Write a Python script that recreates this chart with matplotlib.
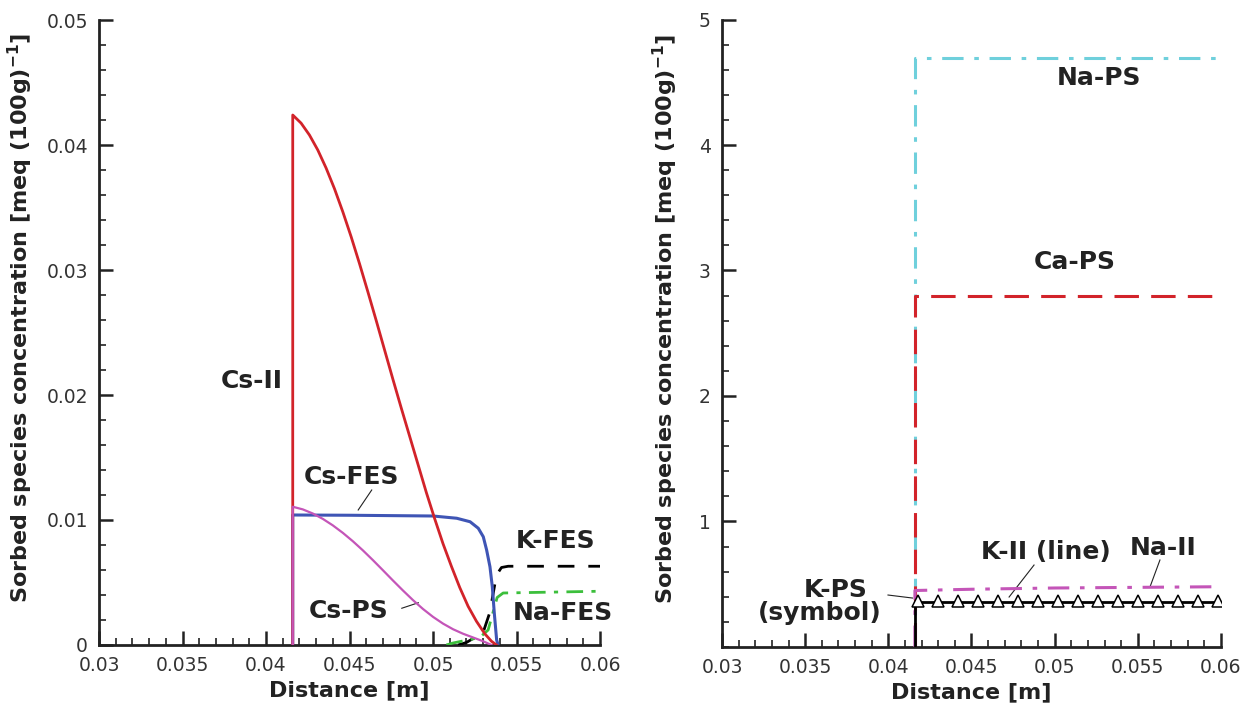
import matplotlib
matplotlib.use("Agg")
import matplotlib.pyplot as plt
from matplotlib.ticker import MultipleLocator

plt.rcParams['font.family'] = ['DejaVu Sans']
plt.rcParams['mathtext.default'] = 'regular'

# ---- left panel: Cs species and FES sites ----
cs_ii_x = [0.0416, 0.0416, 0.0421, 0.0426, 0.0431, 0.0436, 0.0441, 0.0446, 0.0451,
           0.0456, 0.0461, 0.0466, 0.0471, 0.0476, 0.0481, 0.0486, 0.0491, 0.0496,
           0.0501, 0.0506, 0.0511, 0.0516, 0.0521, 0.0526, 0.0531, 0.0535, 0.0538]
cs_ii_y = [0.0, 0.0424, 0.04175, 0.0408, 0.0396, 0.03815, 0.0365, 0.03465, 0.03265,
           0.0305, 0.02825, 0.02595, 0.0236, 0.02125, 0.01895, 0.0167, 0.01445, 0.0122,
           0.0101, 0.0081, 0.0063, 0.0046, 0.0031, 0.0019, 0.0009, 0.0003, 0.0]

cs_fes_x = [0.0416, 0.0416, 0.0450, 0.0500, 0.05142, 0.05222, 0.05271, 0.05301,
            0.05321, 0.05341, 0.05355, 0.05367, 0.05381, 0.0539]
cs_fes_y = [0.0, 0.0104, 0.01038, 0.01032, 0.01014, 0.00986, 0.00934, 0.00866,
            0.0076, 0.00626, 0.00466, 0.00254, 0.0004, 0.0]

cs_ps_x = [0.0416, 0.0416, 0.0422, 0.0428, 0.0434, 0.0440, 0.0446, 0.0452, 0.0458,
           0.0464, 0.0470, 0.0476, 0.0482, 0.0488, 0.0494, 0.0500, 0.0506, 0.0512,
           0.0518, 0.0524, 0.0530, 0.0535]
cs_ps_y = [0.0, 0.01106, 0.01085, 0.01052, 0.01009, 0.00957, 0.00897, 0.0083, 0.00757,
           0.00679, 0.00598, 0.00516, 0.00436, 0.00359, 0.00288, 0.00225, 0.00171, 0.00126,
           0.0009, 0.0006, 0.0003, 0.0]

k_fes_x = [0.0515, 0.0520, 0.0530, 0.0534, 0.0538, 0.0541, 0.0545, 0.0600]
k_fes_y = [0.0, 0.0002, 0.0010, 0.0026, 0.0056, 0.0062, 0.0063, 0.0063]

na_fes_x = [0.0508, 0.0512, 0.0528, 0.0533, 0.05384, 0.0542, 0.0600]
na_fes_y = [0.0, 0.00016, 0.0006, 0.0012, 0.0038, 0.00416, 0.0043]

# ---- right panel: other sorbed species ----
na_ps_x = [0.0416, 0.0416, 0.0598]
na_ps_y = [0.0, 4.69, 4.69]

ca_ps_x = [0.0416, 0.0416, 0.0598]
ca_ps_y = [0.0, 2.80, 2.80]

na_ii_x = [0.0416, 0.0416, 0.0450, 0.0500, 0.0598]
na_ii_y = [0.0, 0.45, 0.46, 0.47, 0.48]

k_ii_x = [0.0416, 0.0416, 0.0598]
k_ii_y = [0.0, 0.36, 0.36]

k_ps_x = [0.0418, 0.0430, 0.0442, 0.0454, 0.0466, 0.0478, 0.0490, 0.0502,
          0.0514, 0.0526, 0.0538, 0.0550, 0.0562, 0.0574, 0.0586, 0.0598]
k_ps_y = [0.37] * 16

x_ticks = [0.03, 0.035, 0.04, 0.045, 0.05, 0.055, 0.06]
x_labels = ["0.03", "0.035", "0.04", "0.045", "0.05", "0.055", "0.06"]
left_y_ticks = [0, 0.01, 0.02, 0.03, 0.04, 0.05]
left_y_labels = ["0", "0.01", "0.02", "0.03", "0.04", "0.05"]
right_y_ticks = [1, 2, 3, 4, 5]
right_y_labels = ["1", "2", "3", "4", "5"]

RED = "#d2232a"
BLUE = "#3f55b5"
MAGENTA = "#c455b8"
GREEN = "#3cbf3c"
CYAN = "#6fd0dc"
TXT = "#222222"

ylabel = "Sorbed species concentration [meq (100g)$^{-1}$]"


def style_axes(ax, ymin_step, label_x):
    for s in ["top", "right"]:
        ax.spines[s].set_visible(False)
    for s in ["left", "bottom"]:
        ax.spines[s].set_linewidth(2.0)
        ax.spines[s].set_color(TXT)
    ax.set_xlim(0.03, 0.06)
    ax.set_xticks(x_ticks)
    ax.set_xticklabels(x_labels)
    ax.xaxis.set_minor_locator(MultipleLocator(0.001))
    ax.yaxis.set_minor_locator(MultipleLocator(ymin_step))
    ax.tick_params(which="major", direction="in", length=10, width=1.8, color=TXT,
                   labelsize=13.5, labelcolor="#333333", pad=8)
    ax.tick_params(which="minor", direction="in", length=5, width=1.2, color=TXT)
    ax.set_xlabel("Distance [m]", fontsize=16, fontweight="bold", color=TXT, labelpad=4)
    ax.set_ylabel(ylabel, fontsize=16, fontweight="bold", color=TXT)
    ax.yaxis.set_label_coords(label_x, 0.523)


fig = plt.figure(figsize=(12.55, 7.07), dpi=100)
ax1 = fig.add_axes([0.0789, 0.0877, 0.3992, 0.8840])
ax2 = fig.add_axes([0.5753, 0.0849, 0.3976, 0.8875])

# left panel
ax1.plot(cs_ii_x, cs_ii_y, color=RED, lw=2.0, zorder=5)
ax1.plot(cs_fes_x, cs_fes_y, color=BLUE, lw=2.2, zorder=4)
ax1.plot(cs_ps_x, cs_ps_y, color=MAGENTA, lw=1.6, zorder=6)
ax1.plot(k_fes_x, k_fes_y, color="black", lw=2.0, dashes=(6, 5), zorder=3)
ax1.plot(na_fes_x, na_fes_y, color=GREEN, lw=2.0, dashes=(6, 3, 1.5, 3), zorder=3)
ax1.set_ylim(0, 0.05)
ax1.set_yticks(left_y_ticks)
ax1.set_yticklabels(left_y_labels)
style_axes(ax1, 0.002, -0.128)

lab = dict(fontsize=18, fontweight="bold", color=TXT, ha="center", va="center")
ax1.text(0.03916, 0.02112, "Cs-II", **lab)
ax1.text(0.04512, 0.01344, "Cs-FES", **lab)
ax1.text(0.04497, 0.00272, "Cs-PS", **lab)
ax1.text(0.05731, 0.00832, "K-FES", **lab)
ax1.text(0.05775, 0.00256, "Na-FES", **lab)
ax1.plot([0.04552, 0.04633], [0.0108, 0.0124], color=TXT, lw=0.8)
ax1.plot([0.04813, 0.04912], [0.00294, 0.00338], color=TXT, lw=0.8)

# right panel
ax2.plot(na_ps_x, na_ps_y, color=CYAN, lw=2.2, dashes=(7, 3.5, 1.5, 3.5), zorder=3)
ax2.plot(ca_ps_x, ca_ps_y, color=RED, lw=2.2, dashes=(8, 4), zorder=4)
ax2.plot(na_ii_x, na_ii_y, color=MAGENTA, lw=2.2, dashes=(7, 3.5, 1.5, 3.5), zorder=5)
ax2.plot(k_ii_x, k_ii_y, color="black", lw=2.0, zorder=5)
ax2.plot(k_ps_x, k_ps_y, linestyle="none", marker="^", markersize=9,
         markerfacecolor="white", markeredgecolor="black", markeredgewidth=1.1, zorder=6)
ax2.set_ylim(0, 5)
ax2.set_yticks(right_y_ticks)
ax2.set_yticklabels(right_y_labels)
style_axes(ax2, 0.2, -0.085)

ax2.text(0.05267, 4.53, "Na-PS", **lab)
ax2.text(0.05122, 3.07, "Ca-PS", **lab)
ax2.text(0.04948, 0.757, "K-II (line)", **lab)
ax2.text(0.05651, 0.789, "Na-II", **lab)
ax2.text(0.03685, 0.454, "K-PS", **lab)
ax2.text(0.03589, 0.271, "(symbol)", **lab)
ax2.plot([0.03998, 0.04145], [0.414, 0.390], color=TXT, lw=0.8)
ax2.plot([0.04876, 0.04726], [0.653, 0.398], color=TXT, lw=0.8)
ax2.plot([0.05633, 0.05573], [0.693, 0.478], color=TXT, lw=0.8)

fig.savefig("out.png", dpi=100)
